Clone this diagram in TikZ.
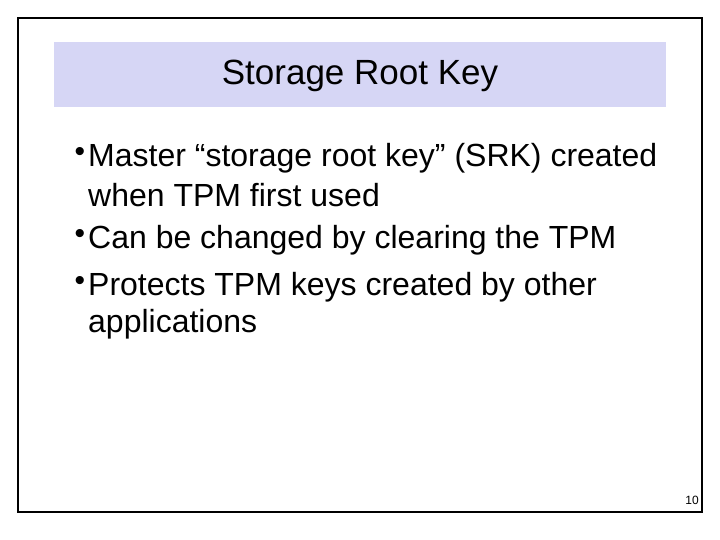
\documentclass[tikz,border=0pt]{standalone}
\usepackage{fontspec}
\setmainfont{Liberation Sans}
\begin{document}
\begin{tikzpicture}[x=1pt,y=-1pt,
  txt/.style={anchor=west,inner sep=0pt,font=\fontsize{32}{36}\selectfont},
  bul/.style={anchor=center,inner sep=0pt,font=\fontsize{30}{34}\selectfont}]
\useasboundingbox (0,0) rectangle (720,540);
\fill[white] (0,0) rectangle (720,540);
\draw[line width=1.3pt] (18,18) rectangle (702,512);
\fill[fill={rgb,255:red,214;green,214;blue,245}] (54,42) rectangle (666,107);
\node[inner sep=0pt,font=\fontsize{35}{40}\selectfont] (title) at (360,76) {Storage Root Key};
\node[bul] (b1) at (80,154) {•};
\node[txt] (l1) at (88,158) {Master “storage root key” (SRK) created};
\node[txt] (l2) at (88,195) {when TPM first used};
\node[bul] (b2) at (80,236) {•};
\node[txt] (l3) at (88,240) {Can be changed by clearing the TPM};
\node[bul] (b3) at (80,283) {•};
\node[txt] (l4) at (88,287) {Protects TPM keys created by other};
\node[txt] (l5) at (88,324) {applications};
\node[inner sep=0pt,font=\fontsize{12}{14}\selectfont] (num) at (692,500) {10};
\end{tikzpicture}
\end{document}
